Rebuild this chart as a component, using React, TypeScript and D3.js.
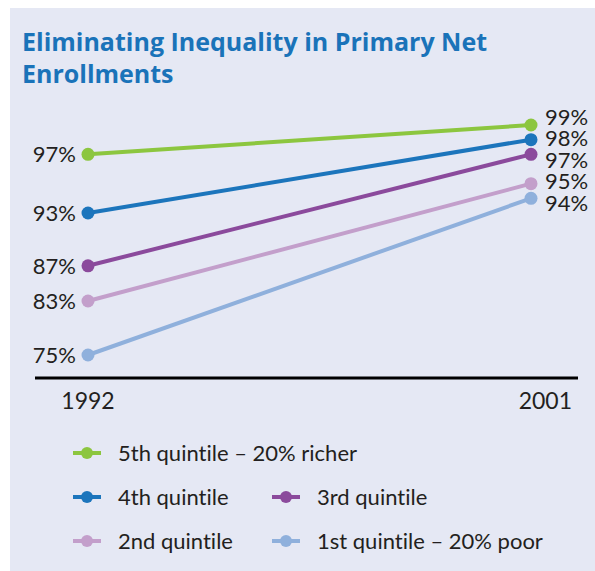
import React from "react";
import * as d3 from "d3";

const title = ["Eliminating Inequality in Primary Net", "Enrollments"];
const years = ["1992", "2001"];
const seriesNames = [
  "5th quintile – 20% richer",
  "4th quintile",
  "3rd quintile",
  "2nd quintile",
  "1st quintile – 20% poor",
];
const values1992 = [97, 93, 87, 83, 75];
const values2001 = [99, 98, 97, 95, 94];
const colors = ["#8cc63f", "#1c75bc", "#8b4a9c", "#c39fcb", "#8fb0dc"];

const W = 595;
const H = 571;
const labelFont = "Lato, 'Open Sans', sans-serif";
const noLig = { fontVariantLigatures: "none" as const, fontFeatureSettings: "'liga' 0" };

function dodge(ys: number[], gap: number): number[] {
  const idx = ys.map((y, i) => i).sort((a, b) => ys[a] - ys[b]);
  const out = ys.slice();
  for (let it = 0; it < 300; it++) {
    for (let k = 1; k < idx.length; k++) {
      const a = idx[k - 1], b = idx[k];
      const d = out[b] - out[a];
      if (d < gap) {
        const s = (gap - d) / 2;
        out[a] -= s;
        out[b] += s;
      }
    }
  }
  return out;
}

export default function App() {
  const x = d3.scalePoint<string>().domain(years).range([88, 531]);
  // non-uniform vertical scale as in the original graphic
  const y = d3.scaleLinear().domain([75, 83, 93, 99]).range([355, 301, 213, 125]);
  const line = d3
    .line<[string, number]>()
    .x((d) => x(d[0]) as number)
    .y((d) => y(d[1]));

  const rightY = dodge(values2001.map((v) => y(v)), 21.5);

  const legendPos = [
    [0, 0],
    [1, 0],
    [1, 1],
    [2, 0],
    [2, 1],
  ];
  const legendRowY = [453, 497, 541];
  const legendColX = [73, 272];

  return (
    <svg
      width={W}
      height={H}
      style={{ position: "absolute", left: 0, top: 0 }}
    >
      <rect x={10} y={8} width={W - 10} height={H - 8} fill="#e5e8f4" />
      {title.map((t, i) => (
        <text
          key={i}
          x={22}
          y={51 + i * 32}
          fill="#1a73b9"
          fontFamily="'Open Sans', 'Noto Sans', sans-serif"
          fontWeight={700}
          fontSize={25}
        >
          {t}
        </text>
      ))}

      {/* axis line */}
      <line x1={35} x2={578} y1={378} y2={378} stroke="#000" strokeWidth={3} />
      <text
        x={x(years[0])}
        y={409}
        textAnchor="middle"
        fontFamily={labelFont}
        fontSize={23}
        fill="#231f20"
      >
        {years[0]}
      </text>
      <text
        x={572}
        y={409}
        textAnchor="end"
        fontFamily={labelFont}
        fontSize={23}
        fill="#231f20"
      >
        {years[1]}
      </text>

      {seriesNames.map((name, i) => {
        const pts: [string, number][] = [
          [years[0], values1992[i]],
          [years[1], values2001[i]],
        ];
        return (
          <g key={name}>
            <path d={line(pts) || ""} stroke={colors[i]} strokeWidth={4} fill="none" />
            {pts.map((p, j) => (
              <circle key={j} cx={x(p[0])} cy={y(p[1])} r={6.5} fill={colors[i]} />
            ))}
            <text
              x={76}
              y={y(values1992[i])}
              dy="0.35em"
              textAnchor="end"
              fontFamily={labelFont}
              fontSize={22}
              fill="#231f20"
            >
              {values1992[i]}%
            </text>
            <text
              x={545}
              y={rightY[i]}
              dy="0.35em"
              textAnchor="start"
              fontFamily={labelFont}
              fontSize={22}
              fill="#231f20"
            >
              {values2001[i]}%
            </text>
          </g>
        );
      })}

      {seriesNames.map((name, i) => {
        const [r, c] = legendPos[i];
        const lx = legendColX[c];
        const ly = legendRowY[r];
        return (
          <g key={"lg" + i}>
            <line x1={lx} x2={lx + 28} y1={ly} y2={ly} stroke={colors[i]} strokeWidth={4} />
            <circle cx={lx + 14} cy={ly} r={6} fill={colors[i]} />
            <text
              x={lx + 45}
              y={ly}
              dy="0.35em"
              fontFamily={labelFont}
              fontSize={22}
              fill="#231f20"
              style={noLig}
            >
              {name}
            </text>
          </g>
        );
      })}
    </svg>
  );
}
